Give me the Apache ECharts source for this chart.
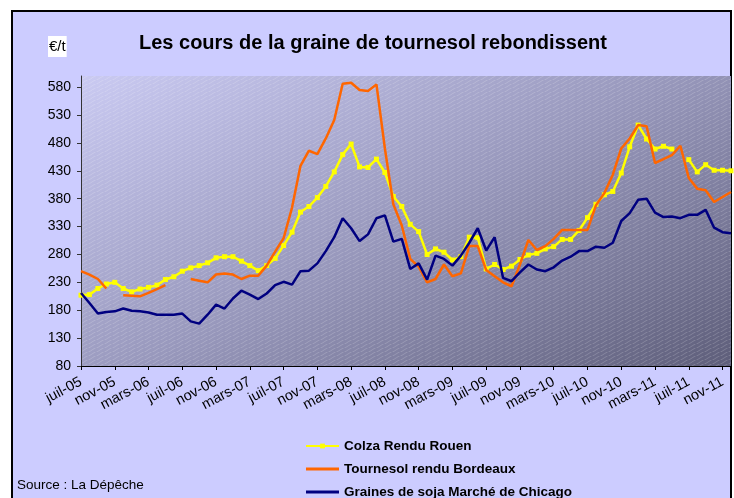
<!DOCTYPE html>
<html>
<head>
<meta charset="utf-8">
<script src="https://cdn.jsdelivr.net/npm/echarts@6/dist/echarts.min.js"></script>
<style>
  html, body { margin: 0; padding: 0; background: #fff; }
  #chart { width: 734px; height: 498px; }
</style>
</head>
<body>
<div id="chart"></div>
<script>
// mois en abrégé, comme dans Excel
var moisNoms = ['janv', 'févr', 'mars', 'avr', 'mai', 'juin', 'juil', 'août', 'sept', 'oct', 'nov', 'déc'];
var categories = [];
for (var k = 0; k < 78; k++) {
    var m = (6 + k) % 12;
    var an = 5 + Math.floor((6 + k) / 12);
    categories.push(moisNoms[m] + '-' + (an < 10 ? '0' + an : an));
}

var yTicks = [80, 130, 180, 230, 280, 330, 380, 430, 480, 530, 580];

var colza = [207, 208, 219, 227, 230, 219, 213, 218, 221, 225,
    235, 240, 250, 256, 260, 265, 274, 276, 276, 268,
    260, 251, 260, 273, 296, 320, 356, 366, 382, 402,
    428, 459, 478, 437, 436, 451, 427, 384, 366, 334,
    321, 280, 290, 284, 270, 276, 311, 310, 254, 262,
    253, 259, 271, 279, 282, 290, 294, 307, 307, 323,
    346, 370, 387, 393, 426, 473, 512, 487, 469, 474,
    469, null, 450, 428, 441, 431, 431, 430];

var tournesol = [250, 244, 236, 219, null, 207, 206, 205, 211, 218,
    225, null, null, 236, 233, 230, 244, 246, 244, 236,
    242, 242, 260, 285, 309, 364, 439, 466, 460, 488,
    521, 586, 588, 575, 573, 585, 470, 370, 332, 272,
    258, 230, 236, 262, 241, 246, 295, 295, 252, 241,
    230, 223, 262, 306, 288, 295, 308, 324, 324, 324,
    324, 368, 390, 423, 470, 488, 512, 510, 444, 451,
    458, 475, 417, 398, 395, 374, 383, 392];

var soja = [211, 193, 174, 177, 178, 183, 179, 178, 176, 172,
    172, 172, 174, 160, 156, 172, 190, 183, 201, 215,
    208, 200, 210, 225, 231, 226, 250, 251, 264, 286,
    311, 345, 327, 304, 316, 345, 350, 303, 308, 254,
    264, 235, 278, 272, 260, 278, 301, 327, 287, 311,
    238, 232, 248, 262, 253, 250, 257, 269, 276, 286,
    286, 294, 292, 301, 340, 354, 378, 380, 355, 347,
    348, 345, 351, 351, 360, 328, 320, 318];

var police = '"Liberation Sans", Arial, sans-serif';
var G = { left: 81, top: 76, width: 650, height: 290 };
var trait = 'path://M0,0H33V3H0Z';

// hachures fines du fond
var hach = document.createElement('canvas');
hach.width = 8; hach.height = 4;
var hc = hach.getContext('2d');
hc.strokeStyle = 'rgba(255,255,255,0.18)';
hc.lineWidth = 1;
hc.beginPath(); hc.moveTo(0, 4.5); hc.lineTo(8, -0.5); hc.stroke();

var myChart = echarts.init(document.getElementById('chart'));
var option = {
    animation: false,
    backgroundColor: '#fff',
    title: [
        {
            text: 'Les cours de la graine de tournesol rebondissent',
            left: 134, top: 28,
            textStyle: { fontFamily: police, fontSize: 20, fontWeight: 'bold', color: '#000' }
        },
        {
            text: '€/t',
            left: 48, top: 36,
            padding: [3, 1],
            backgroundColor: '#fff',
            textStyle: { fontFamily: police, fontSize: 15, fontWeight: 'normal', color: '#000' }
        },
        {
            text: 'Source : La Dépêche',
            left: 12, top: 473,
            textStyle: { fontFamily: police, fontSize: 13.5, fontWeight: 'normal', color: '#000' }
        }
    ],
    graphic: [
        {
            type: 'rect', z: 0, silent: true,
            shape: { x: 12, y: 11, width: 719, height: 520 },
            style: { fill: '#CCCCFF', stroke: '#000', lineWidth: 2 }
        },
        {
            type: 'rect', z: 1, silent: true,
            shape: { x: G.left, y: G.top, width: G.width, height: G.height },
            style: {
                fill: new echarts.graphic.LinearGradient(0, 0, 0.417, 1.713, [
                    { offset: 0, color: '#CACAF2' },
                    { offset: 0.5, color: '#9898BC' },
                    { offset: 1, color: '#5E5E7A' }
                ])
            }
        },
        {
            type: 'rect', z: 2, silent: true,
            shape: { x: G.left, y: G.top, width: G.width, height: G.height },
            style: { fill: { image: hach, repeat: 'repeat' } }
        }
    ],
    legend: {
        orient: 'vertical',
        left: 305, top: 439,
        height: 90,
        padding: 0,
        itemWidth: 33, itemHeight: 6, itemGap: 9,
        selectedMode: false,
        textStyle: { fontFamily: police, fontSize: 13.5, fontWeight: 'bold', color: '#000' },
        data: [
            { name: 'Colza Rendu Rouen' },
            { name: 'Tournesol rendu Bordeaux', icon: trait },
            { name: 'Graines de soja Marché de Chicago', icon: trait }
        ]
    },
    grid: { left: G.left, top: G.top, width: G.width, height: G.height, containLabel: false },
    xAxis: {
        type: 'category',
        data: categories,
        boundaryGap: false,
        z: 10,
        axisLine: { lineStyle: { color: '#000', width: 1 } },
        axisTick: { interval: 3, length: 4, lineStyle: { color: '#000' } },
        axisLabel: { interval: 3, rotate: 28, margin: 15, fontFamily: police, fontSize: 14.5, color: '#000' },
        splitLine: { show: false }
    },
    yAxis: {
        type: 'value',
        min: 80, max: 600, interval: 50,
        z: 10,
        axisLine: { show: true, lineStyle: { color: '#333', width: 1 } },
        axisTick: { show: true, length: 4, customValues: yTicks, lineStyle: { color: '#333' } },
        axisLabel: { customValues: yTicks, margin: 10, fontFamily: police, fontSize: 14, color: '#000' },
        splitLine: { show: false }
    },
    series: [
        {
            name: 'Colza Rendu Rouen',
            type: 'line',
            data: colza,
            z: 10,
            symbol: 'rect', symbolSize: 5,
            showAllSymbol: true,
            itemStyle: { color: '#FFFF00' },
            lineStyle: { color: '#FFFF00', width: 2.5 },
            emphasis: { disabled: true }
        },
        {
            name: 'Tournesol rendu Bordeaux',
            type: 'line',
            data: tournesol,
            z: 11,
            symbol: 'none',
            itemStyle: { color: '#FF6600' },
            lineStyle: { color: '#FF6600', width: 2.5 },
            emphasis: { disabled: true }
        },
        {
            name: 'Graines de soja Marché de Chicago',
            type: 'line',
            data: soja,
            z: 12,
            symbol: 'none',
            itemStyle: { color: '#000080' },
            lineStyle: { color: '#000080', width: 2.5 },
            emphasis: { disabled: true }
        }
    ]
};
myChart.setOption(option);
window.onresize = function () {
    myChart.resize();
};
</script>
</body>
</html>
